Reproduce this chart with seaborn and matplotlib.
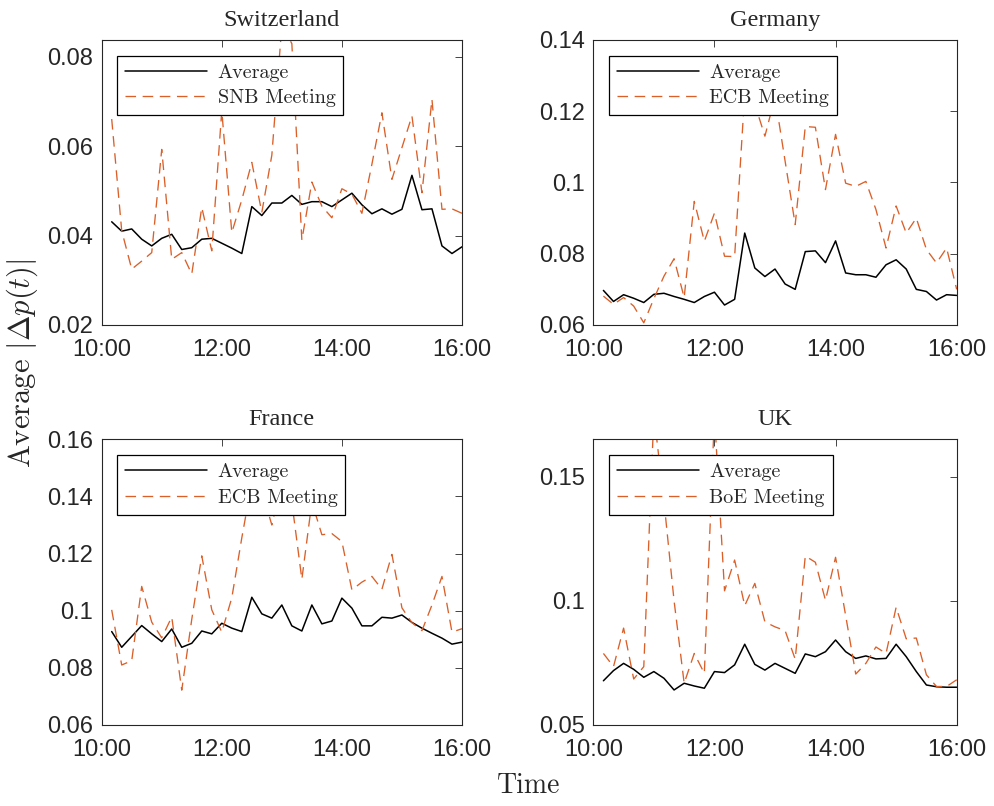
import numpy as np
import matplotlib.pyplot as plt
import seaborn as sns

# time grid: minutes after 10:00, one point every 10 minutes (10:10 ... 16:00)
minutes = np.arange(10, 361, 10)
xtick_pos = [0, 120, 240, 360]
xtick_labels = ['10:00', '12:00', '14:00', '16:00']

che_avg = [0.0431, 0.0410, 0.0415, 0.0392, 0.0377, 0.0394, 0.0403, 0.0369, 0.0373, 0.0392,
           0.0394, 0.0383, 0.0372, 0.0360, 0.0465, 0.0445, 0.0473, 0.0473, 0.0490, 0.0470,
           0.0476, 0.0476, 0.0465, 0.0480, 0.0495, 0.0469, 0.0449, 0.0460, 0.0448, 0.0459,
           0.0535, 0.0458, 0.0460, 0.0377, 0.0360, 0.0375]
che_snb = [0.0661, 0.0411, 0.0325, 0.0343, 0.0362, 0.0593, 0.0347, 0.0362, 0.0314, 0.0463,
           0.0366, 0.0680, 0.0407, 0.0480, 0.0564, 0.0452, 0.0580, 0.0870, 0.0830, 0.0390,
           0.0520, 0.0466, 0.0440, 0.0505, 0.0493, 0.0450, 0.0560, 0.0675, 0.0526, 0.0597,
           0.0668, 0.0496, 0.0705, 0.0459, 0.0460, 0.0450]

deu_avg = [0.0697, 0.0666, 0.0685, 0.0675, 0.0663, 0.0686, 0.0689, 0.0680, 0.0672, 0.0663,
           0.0680, 0.0692, 0.0656, 0.0672, 0.0858, 0.0760, 0.0736, 0.0757, 0.0715, 0.0700,
           0.0806, 0.0808, 0.0775, 0.0836, 0.0746, 0.0741, 0.0741, 0.0734, 0.0769, 0.0783,
           0.0757, 0.0700, 0.0694, 0.0670, 0.0685, 0.0683]
deu_ecb = [0.0681, 0.0658, 0.0677, 0.0653, 0.0606, 0.0674, 0.0737, 0.0786, 0.0677, 0.0947,
           0.0835, 0.0914, 0.0793, 0.0792, 0.1250, 0.1220, 0.1130, 0.1240, 0.1060, 0.0882,
           0.1157, 0.1155, 0.0980, 0.1135, 0.0998, 0.0989, 0.1003, 0.0924, 0.0816, 0.0934,
           0.0858, 0.0900, 0.0812, 0.0774, 0.0816, 0.0700]

fra_avg = [0.0927, 0.0872, 0.0910, 0.0948, 0.0919, 0.0892, 0.0936, 0.0872, 0.0886, 0.0929,
           0.0919, 0.0956, 0.0939, 0.0927, 0.1047, 0.0989, 0.0974, 0.1020, 0.0947, 0.0929,
           0.1020, 0.0954, 0.0964, 0.1044, 0.1009, 0.0947, 0.0947, 0.0977, 0.0974, 0.0985,
           0.0959, 0.0939, 0.0921, 0.0904, 0.0883, 0.0890]
fra_ecb = [0.1003, 0.0810, 0.0825, 0.1085, 0.0960, 0.0905, 0.0978, 0.0722, 0.0970, 0.1192,
           0.1003, 0.0925, 0.1045, 0.1255, 0.1450, 0.1420, 0.1300, 0.1450, 0.1380, 0.1110,
           0.1380, 0.1266, 0.1270, 0.1242, 0.1073, 0.1100, 0.1120, 0.1075, 0.1197, 0.1010,
           0.0958, 0.0930, 0.1020, 0.1120, 0.0925, 0.0937]

gbr_avg = [0.0678, 0.0719, 0.0748, 0.0724, 0.0692, 0.0715, 0.0688, 0.0641, 0.0668, 0.0657,
           0.0648, 0.0715, 0.0711, 0.0742, 0.0825, 0.0744, 0.0721, 0.0748, 0.0728, 0.0708,
           0.0786, 0.0775, 0.0795, 0.0842, 0.0795, 0.0768, 0.0778, 0.0766, 0.0768, 0.0825,
           0.0775, 0.0715, 0.0661, 0.0654, 0.0652, 0.0652]
gbr_boe = [0.0788, 0.0735, 0.0890, 0.0685, 0.0735, 0.1750, 0.1400, 0.1000, 0.0668, 0.0788,
           0.0708, 0.1750, 0.1040, 0.1164, 0.0980, 0.1070, 0.0915, 0.0895, 0.0880, 0.0765,
           0.1180, 0.1155, 0.1002, 0.1175, 0.0940, 0.0705, 0.0748, 0.0814, 0.0788, 0.0974,
           0.0847, 0.0850, 0.0702, 0.0655, 0.0655, 0.0682]

titles = ['Switzerland', 'Germany', 'France', 'UK']
meeting_labels = ['SNB Meeting', 'ECB Meeting', 'ECB Meeting', 'BoE Meeting']
avg_series = [che_avg, deu_avg, fra_avg, gbr_avg]
meet_series = [che_snb, deu_ecb, fra_ecb, gbr_boe]
ylims = [(0.02, 0.0838), (0.06, 0.14), (0.06, 0.16), (0.05, 0.165)]
yticks = [[0.02, 0.04, 0.06, 0.08],
          [0.06, 0.08, 0.10, 0.12, 0.14],
          [0.06, 0.08, 0.10, 0.12, 0.14, 0.16],
          [0.05, 0.10, 0.15]]
ytick_labels = [['0.02', '0.04', '0.06', '0.08'],
                ['0.06', '0.08', '0.1', '0.12', '0.14'],
                ['0.06', '0.08', '0.1', '0.12', '0.14', '0.16'],
                ['0.05', '0.1', '0.15']]

sns.set_style('white')
plt.rcParams['mathtext.fontset'] = 'cm'
plt.rcParams['axes.unicode_minus'] = False

fig = plt.figure(figsize=(9.95, 8.06), dpi=100)
boxes = [[0.1022, 0.5968, 0.3621, 0.3536],
         [0.5963, 0.5968, 0.3652, 0.3536],
         [0.1022, 0.1005, 0.3621, 0.3545],
         [0.5963, 0.1005, 0.3652, 0.3545]]

meet_color = '#DB5F28'
for i in range(4):
    ax = fig.add_axes(boxes[i])
    sns.lineplot(x=minutes, y=avg_series[i], ax=ax, color='black', linewidth=1.1)
    sns.lineplot(x=minutes, y=meet_series[i], ax=ax, color=meet_color, linewidth=0.95,
                 linestyle=(0, (8, 5)))
    ax.set_xlim(0, 360)
    ax.set_ylim(*ylims[i])
    ax.set_xticks(xtick_pos)
    ax.set_xticklabels(xtick_labels, fontfamily='Liberation Sans', fontsize=17)
    ax.set_yticks(yticks[i])
    ax.set_yticklabels(ytick_labels[i], fontfamily='Liberation Sans', fontsize=17)
    ax.tick_params(direction='in', top=True, right=True, length=5, width=0.6,
                   color='#262626')
    ax.tick_params(axis='x', pad=10)
    ax.tick_params(axis='y', pad=6)
    for s in ax.spines.values():
        s.set_color('#262626')
        s.set_linewidth(0.8)
    ax.set_title(titles[i], fontfamily='Liberation Serif', fontsize=17.5, pad=10)
    leg = ax.legend(ax.get_lines()[:2], ['Average', meeting_labels[i]],
                    loc='upper left', bbox_to_anchor=(0.042, 0.944), borderaxespad=0,
                    prop={'family': 'cmr10', 'size': 14.5}, handlelength=4.1,
                    handletextpad=0.5, borderpad=0.4, labelspacing=0.35,
                    fancybox=False, framealpha=1, edgecolor='black')
    leg.get_frame().set_linewidth(0.9)

fig.text(22 / 995, 1 - 363 / 806, r'Average $|\Delta p(t)|$', rotation=90,
         ha='center', va='center', fontfamily='cmr10', fontsize=22)
fig.text(529 / 995, 1 - 786 / 806, 'Time', ha='center', va='center',
         fontfamily='cmr10', fontsize=20)

fig.savefig('out.png', dpi=100)
